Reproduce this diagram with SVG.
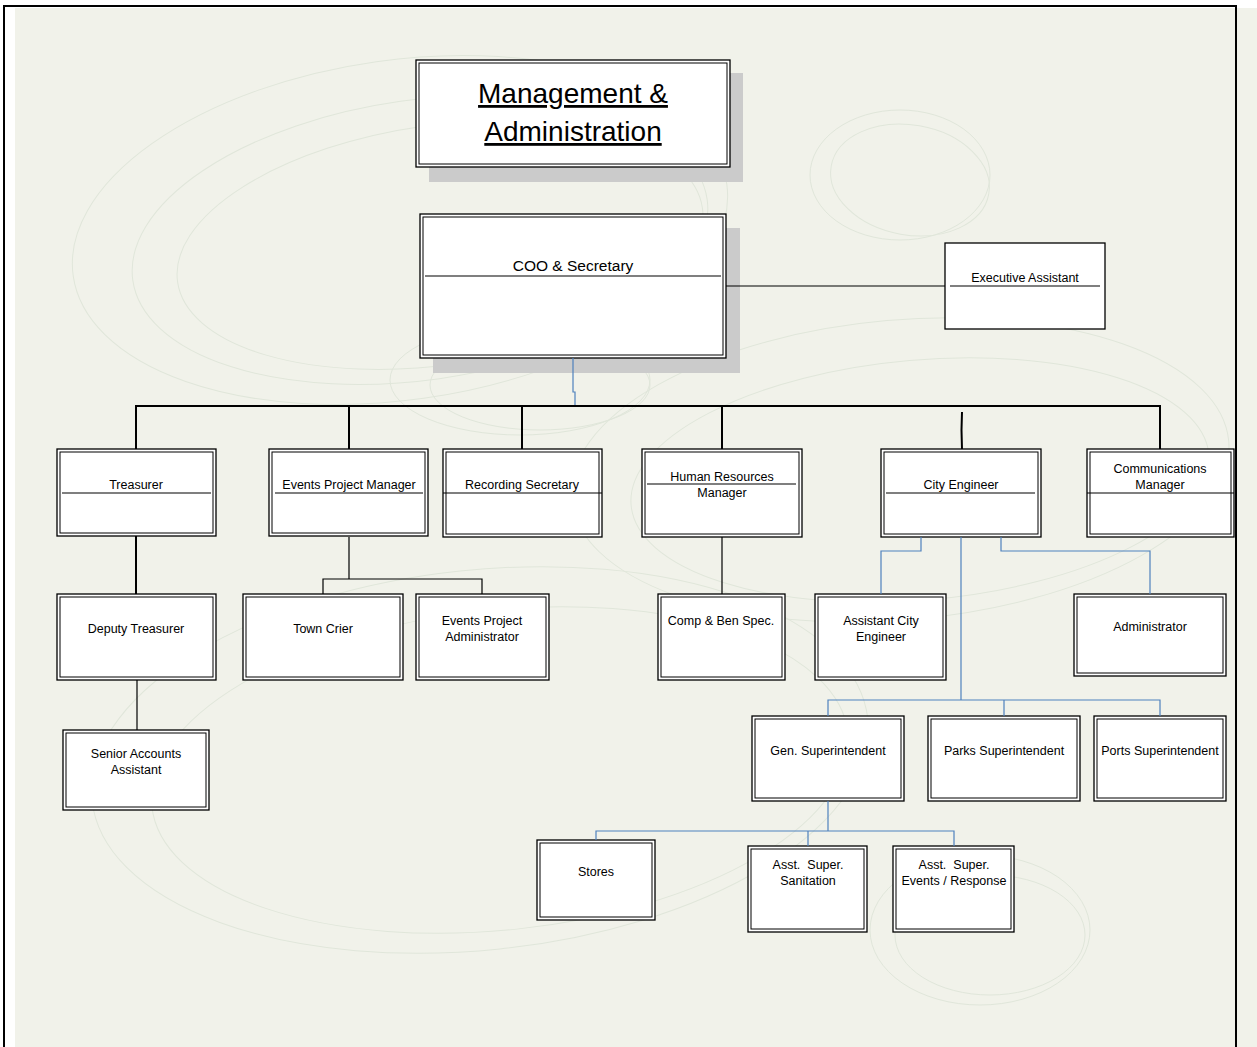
<svg xmlns="http://www.w3.org/2000/svg" width="1257" height="1047" viewBox="0 0 1257 1047">
<style>
.o{fill:#fff;stroke:#000;stroke-width:1.3}
.i{fill:none;stroke:#000;stroke-width:1}
.t{font-family:"Liberation Sans",Arial,sans-serif;font-size:12.5px;text-anchor:middle;fill:#000}
.big{font-size:28px;text-decoration:underline}
.mid{font-size:15.5px}
.sep{stroke:#000;stroke-width:1.2}
.sh{fill:#cbcbcb}
.bg{fill:none;stroke:#e0e6da;stroke-width:1}
.k{fill:none;stroke:#000;stroke-width:2}
.k1{fill:none;stroke:#000;stroke-width:1.2}
.b{fill:none;stroke:#4f81bd;stroke-width:1.2}
</style>
<rect width="1257" height="1047" fill="#fff"/>
<rect x="15" y="8" width="1242" height="1039" fill="#f1f2ea"/>
<g id="background">
<ellipse class="bg" cx="400" cy="230" rx="330" ry="170" transform="rotate(-8 400 230)"/>
<ellipse class="bg" cx="420" cy="240" rx="290" ry="140" transform="rotate(-8 420 240)"/>
<ellipse class="bg" cx="440" cy="245" rx="265" ry="120" transform="rotate(-8 440 245)"/>
<ellipse class="bg" cx="900" cy="175" rx="90" ry="65"/>
<ellipse class="bg" cx="910" cy="180" rx="80" ry="55" transform="rotate(10 910 180)"/>
<ellipse class="bg" cx="520" cy="380" rx="130" ry="55"/>
<ellipse class="bg" cx="540" cy="385" rx="110" ry="45"/>
<ellipse class="bg" cx="900" cy="470" rx="330" ry="150" transform="rotate(-5 900 470)"/>
<ellipse class="bg" cx="920" cy="480" rx="290" ry="120" transform="rotate(-5 920 480)"/>
<ellipse class="bg" cx="480" cy="760" rx="390" ry="190" transform="rotate(-6 480 760)"/>
<ellipse class="bg" cx="500" cy="770" rx="350" ry="160" transform="rotate(-6 500 770)"/>
<ellipse class="bg" cx="980" cy="930" rx="110" ry="75"/>
<ellipse class="bg" cx="990" cy="935" rx="95" ry="60"/>
</g>
<g id="frame" stroke="#000" stroke-width="2" fill="none">
<line x1="3" y1="6" x2="1237" y2="6"/>
<line x1="4" y1="5" x2="4" y2="1047"/>
<line x1="1236" y1="5" x2="1236" y2="1047"/>
</g>
<g id="title">
<rect class="sh" x="429" y="73" width="314" height="109"/>
<rect class="o" x="416" y="60" width="314" height="107"/>
<rect class="i" x="419" y="63" width="308" height="101"/>
<text class="t big" x="573" y="103">Management &amp;</text>
<text class="t big" x="573" y="141">Administration</text>
</g>
<g id="coo">
<rect class="sh" x="433" y="228" width="307" height="145"/>
<rect class="o" x="420" y="214" width="306" height="144"/>
<rect class="i" x="423" y="217" width="300" height="138"/>
<text class="t mid" x="573" y="271">COO &amp; Secretary</text>
<line class="sep" x1="425" y1="276" x2="721" y2="276"/>
</g>
<g id="exec-assistant">
<rect class="o" x="945" y="243" width="160" height="86" stroke-width="1.5"/>
<text class="t" x="1025" y="282">Executive Assistant</text>
<line class="sep" x1="950" y1="286" x2="1100" y2="286"/>
</g>
<g id="treasurer">
<rect class="o" x="57" y="449" width="159" height="87"/>
<rect class="i" x="60" y="452" width="153" height="81"/>
<text class="t" x="136" y="489">Treasurer</text>
<line class="sep" x1="62" y1="493" x2="211" y2="493"/>
</g>
<g id="events-pm">
<rect class="o" x="269" y="449" width="159" height="87"/>
<rect class="i" x="272" y="452" width="153" height="81"/>
<text class="t" x="349" y="489">Events Project Manager</text>
<line class="sep" x1="275" y1="493" x2="423" y2="493"/>
</g>
<g id="recording-secretary">
<rect class="o" x="443" y="449" width="159" height="88"/>
<rect class="i" x="446" y="452" width="153" height="82"/>
<text class="t" x="522" y="489">Recording Secretary</text>
<line class="sep" x1="443" y1="493" x2="602" y2="493"/>
</g>
<g id="hr-manager">
<rect class="o" x="642" y="449" width="160" height="88"/>
<rect class="i" x="645" y="452" width="154" height="82"/>
<text class="t" x="722" y="481">Human Resources</text>
<line class="sep" x1="647" y1="484" x2="796" y2="484"/>
<text class="t" x="722" y="497">Manager</text>
</g>
<g id="city-engineer">
<rect class="o" x="881" y="449" width="160" height="88"/>
<rect class="i" x="884" y="452" width="154" height="82"/>
<text class="t" x="961" y="489">City Engineer</text>
<line class="sep" x1="886" y1="493" x2="1035" y2="493"/>
</g>
<g id="comms-manager">
<rect class="o" x="1087" y="449" width="147" height="88"/>
<rect class="i" x="1090" y="452" width="141" height="82"/>
<text class="t" x="1160" y="473">Communications</text>
<text class="t" x="1160" y="489">Manager</text>
<line class="sep" x1="1087" y1="493" x2="1234" y2="493"/>
</g>
<g id="deputy-treasurer">
<rect class="o" x="57" y="594" width="159" height="86"/>
<rect class="i" x="60" y="597" width="153" height="80"/>
<text class="t" x="136" y="633">Deputy Treasurer</text>
</g>
<g id="senior-accounts">
<rect class="o" x="63" y="730" width="146" height="80"/>
<rect class="i" x="66" y="733" width="140" height="74"/>
<text class="t" x="136" y="758">Senior Accounts</text>
<text class="t" x="136" y="774">Assistant</text>
</g>
<g id="town-crier">
<rect class="o" x="243" y="594" width="160" height="86"/>
<rect class="i" x="246" y="597" width="154" height="80"/>
<text class="t" x="323" y="633">Town Crier</text>
</g>
<g id="events-admin">
<rect class="o" x="416" y="594" width="133" height="86"/>
<rect class="i" x="419" y="597" width="127" height="80"/>
<text class="t" x="482" y="625">Events Project</text>
<text class="t" x="482" y="641">Administrator</text>
</g>
<g id="comp-ben">
<rect class="o" x="658" y="594" width="127" height="86"/>
<rect class="i" x="661" y="597" width="121" height="80"/>
<text class="t" x="721" y="625">Comp &amp; Ben Spec.</text>
</g>
<g id="asst-city-engineer">
<rect class="o" x="815" y="594" width="131" height="86"/>
<rect class="i" x="818" y="597" width="125" height="80"/>
<text class="t" x="881" y="625">Assistant City</text>
<text class="t" x="881" y="641">Engineer</text>
</g>
<g id="administrator">
<rect class="o" x="1074" y="594" width="152" height="82"/>
<rect class="i" x="1077" y="597" width="146" height="76"/>
<text class="t" x="1150" y="631">Administrator</text>
</g>
<g id="gen-super">
<rect class="o" x="752" y="716" width="152" height="85"/>
<rect class="i" x="755" y="719" width="146" height="79"/>
<text class="t" x="828" y="755">Gen. Superintendent</text>
</g>
<g id="parks-super">
<rect class="o" x="928" y="716" width="152" height="85"/>
<rect class="i" x="931" y="719" width="146" height="79"/>
<text class="t" x="1004" y="755">Parks Superintendent</text>
</g>
<g id="ports-super">
<rect class="o" x="1094" y="716" width="132" height="85"/>
<rect class="i" x="1097" y="719" width="126" height="79"/>
<text class="t" x="1160" y="755">Ports Superintendent</text>
</g>
<g id="stores">
<rect class="o" x="537" y="840" width="118" height="80"/>
<rect class="i" x="540" y="843" width="112" height="74"/>
<text class="t" x="596" y="876">Stores</text>
</g>
<g id="asst-sanitation">
<rect class="o" x="748" y="846" width="119" height="86"/>
<rect class="i" x="751" y="849" width="113" height="80"/>
<text class="t" x="808" y="869" xml:space="preserve">Asst.  Super.</text>
<text class="t" x="808" y="885">Sanitation</text>
</g>
<g id="asst-events">
<rect class="o" x="893" y="846" width="121" height="86"/>
<rect class="i" x="896" y="849" width="115" height="80"/>
<text class="t" x="954" y="869" xml:space="preserve">Asst.  Super.</text>
<text class="t" x="954" y="885">Events / Response</text>
</g>
<g id="connectors">
<line class="k1" x1="726" y1="286" x2="945" y2="286"/>
<path class="b" d="M573 358V392H575V406"/>
<line class="k" x1="135" y1="406" x2="1161" y2="406"/>
<line class="k" x1="682" y1="406" x2="695" y2="406" stroke-width="3"/>
<line class="k" x1="136" y1="406" x2="136" y2="449"/>
<line class="k" x1="349" y1="406" x2="349" y2="449"/>
<line class="k" x1="522" y1="406" x2="522" y2="449"/>
<line class="k" x1="722" y1="406" x2="722" y2="449"/>
<path class="k" d="M962 412Q961 430 962 449"/>
<line class="k" x1="1160" y1="406" x2="1160" y2="449"/>
<line class="k" x1="136" y1="536" x2="136" y2="594"/>
<line class="k1" x1="137" y1="680" x2="137" y2="730"/>
<path class="k1" d="M349 537V579M323 594V579H482V594"/>
<line class="k1" x1="722" y1="537" x2="722" y2="594"/>
<path class="b" d="M921 537V551H881V594"/>
<path class="b" d="M1001 537V551H1150V594"/>
<path class="b" d="M961 537V700"/>
<path class="b" d="M828 716V700H1160V716M1004 700V716"/>
<path class="b" d="M828 801V831"/>
<path class="b" d="M596 840V831H954V846M808 831V846"/>
</g>
</svg>
